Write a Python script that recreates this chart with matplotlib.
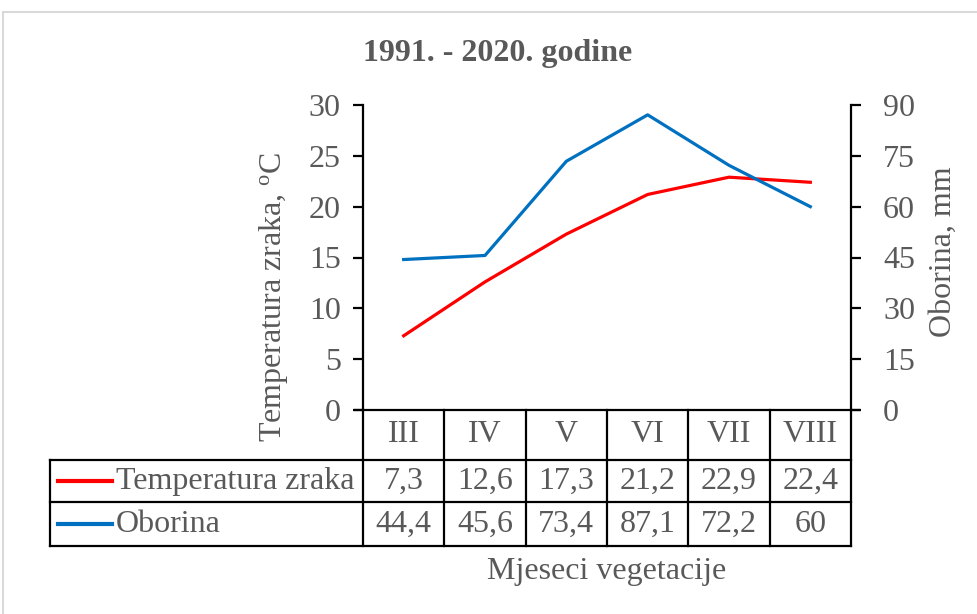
import matplotlib.pyplot as plt
import matplotlib.transforms as mtransforms
from matplotlib.patches import Rectangle
from matplotlib.lines import Line2D

months = ['III', 'IV', 'V', 'VI', 'VII', 'VIII']
temp = [7.3, 12.6, 17.3, 21.2, 22.9, 22.4]
rain = [44.4, 45.6, 73.4, 87.1, 72.2, 60]
temp_lbl = ['7,3', '12,6', '17,3', '21,2', '22,9', '22,4']
rain_lbl = ['44,4', '45,6', '73,4', '87,1', '72,2', '60']

GRAY = '#595959'
RED = '#FF0000'
BLUE = '#0070C0'
FS = 23

plt.rcParams['font.family'] = ['Liberation Serif', 'DejaVu Serif']

W, H = 977, 614
fig = plt.figure(figsize=(W / 100, H / 100), dpi=100)

# outer chart border
fig.patches.append(Rectangle((3 / W, -0.01), 1.02, 1 - 12 / H + 0.01,
                             transform=fig.transFigure, fill=False,
                             edgecolor='#D9D9D9', lw=1.5))

# plot area in pixels: x 363..851, y 105..410
L, R, T, B = 363, 851, 105, 410
ax = fig.add_axes([L / W, 1 - B / H, (R - L) / W, (B - T) / H])
ax2 = ax.twinx()

x = list(range(len(months)))
ax.plot(x, temp, color=RED, lw=2.3)
ax2.plot(x, rain, color=BLUE, lw=2.3)

ax.set_xlim(-0.5, len(months) - 0.5)
ax.set_ylim(0, 30)
ax2.set_ylim(0, 90)
ax.set_yticks(range(0, 31, 5))
ax2.set_yticks(range(0, 91, 15))
ax.set_xticks([])

for a in (ax, ax2):
    a.spines['top'].set_visible(False)
    a.spines['bottom'].set_visible(False)
    for s in a.spines.values():
        s.set_linewidth(1.6)
    a.tick_params(axis='y', direction='out', length=7, width=1.6,
                  labelsize=FS, labelcolor=GRAY)
ax.spines['right'].set_visible(False)
ax2.spines['left'].set_visible(False)
ax.tick_params(axis='y', pad=9)
ax2.tick_params(axis='y', pad=16)

ax.set_ylabel('Temperatura zraka, $\\mathregular{^o}$C', fontsize=FS,
              color=GRAY)
ax.yaxis.set_label_coords(-0.15, 0.37)
ax2.set_ylabel('Oborina, mm', fontsize=FS, color=GRAY)
ax2.yaxis.set_label_coords(1.16, 0.52)

fig.text(498 / W, 1 - 53 / H, '1991. - 2020. godine', ha='center',
         va='center', fontsize=FS, fontweight='bold', color=GRAY)

# data table below the plot
h = B - T
rows = [0, -50 / h, -92 / h, -136 / h]
left = (50 - L) / (R - L)
lk = dict(color='black', lw=1.6, transform=ax.transAxes, clip_on=False)
ext = 8 / (R - L)
ax.add_line(Line2D([-ext, 1 + ext], [0, 0], **lk))
for yy in rows[1:]:
    ax.add_line(Line2D([left, 1], [yy, yy], **lk))
ax.add_line(Line2D([left, left], [rows[1], rows[3]], **lk))
for i in range(len(months) + 1):
    xf = i / len(months)
    ax.add_line(Line2D([xf, xf], [0, rows[3]], **lk))

blend = mtransforms.blended_transform_factory(ax.transData, ax.transAxes)
for i, m in enumerate(months):
    ax.text(i, (rows[0] + rows[1]) / 2, m, transform=blend, ha='center',
            va='center', fontsize=FS, color=GRAY)
    ax.text(i, (rows[1] + rows[2]) / 2, temp_lbl[i], transform=blend,
            ha='center', va='center', fontsize=FS, color=GRAY)
    ax.text(i, (rows[2] + rows[3]) / 2, rain_lbl[i], transform=blend,
            ha='center', va='center', fontsize=FS, color=GRAY)

# legend keys in table header
for (r0, r1), name, col in [((rows[1], rows[2]), 'Temperatura zraka', RED),
                            ((rows[2], rows[3]), 'Oborina', BLUE)]:
    yc = (r0 + r1) / 2
    ax.add_line(Line2D([(58 - L) / (R - L), (112 - L) / (R - L)], [yc, yc],
                color=col, lw=3, transform=ax.transAxes, clip_on=False))
    ax.text((116 - L) / (R - L), yc, name, transform=ax.transAxes,
            ha='left', va='center', fontsize=FS, color=GRAY)

fig.text((L + R) / 2 / W, 1 - 571 / H, 'Mjeseci vegetacije', ha='center',
         va='center', fontsize=FS, color=GRAY)

fig.savefig('out.png', dpi=100)
